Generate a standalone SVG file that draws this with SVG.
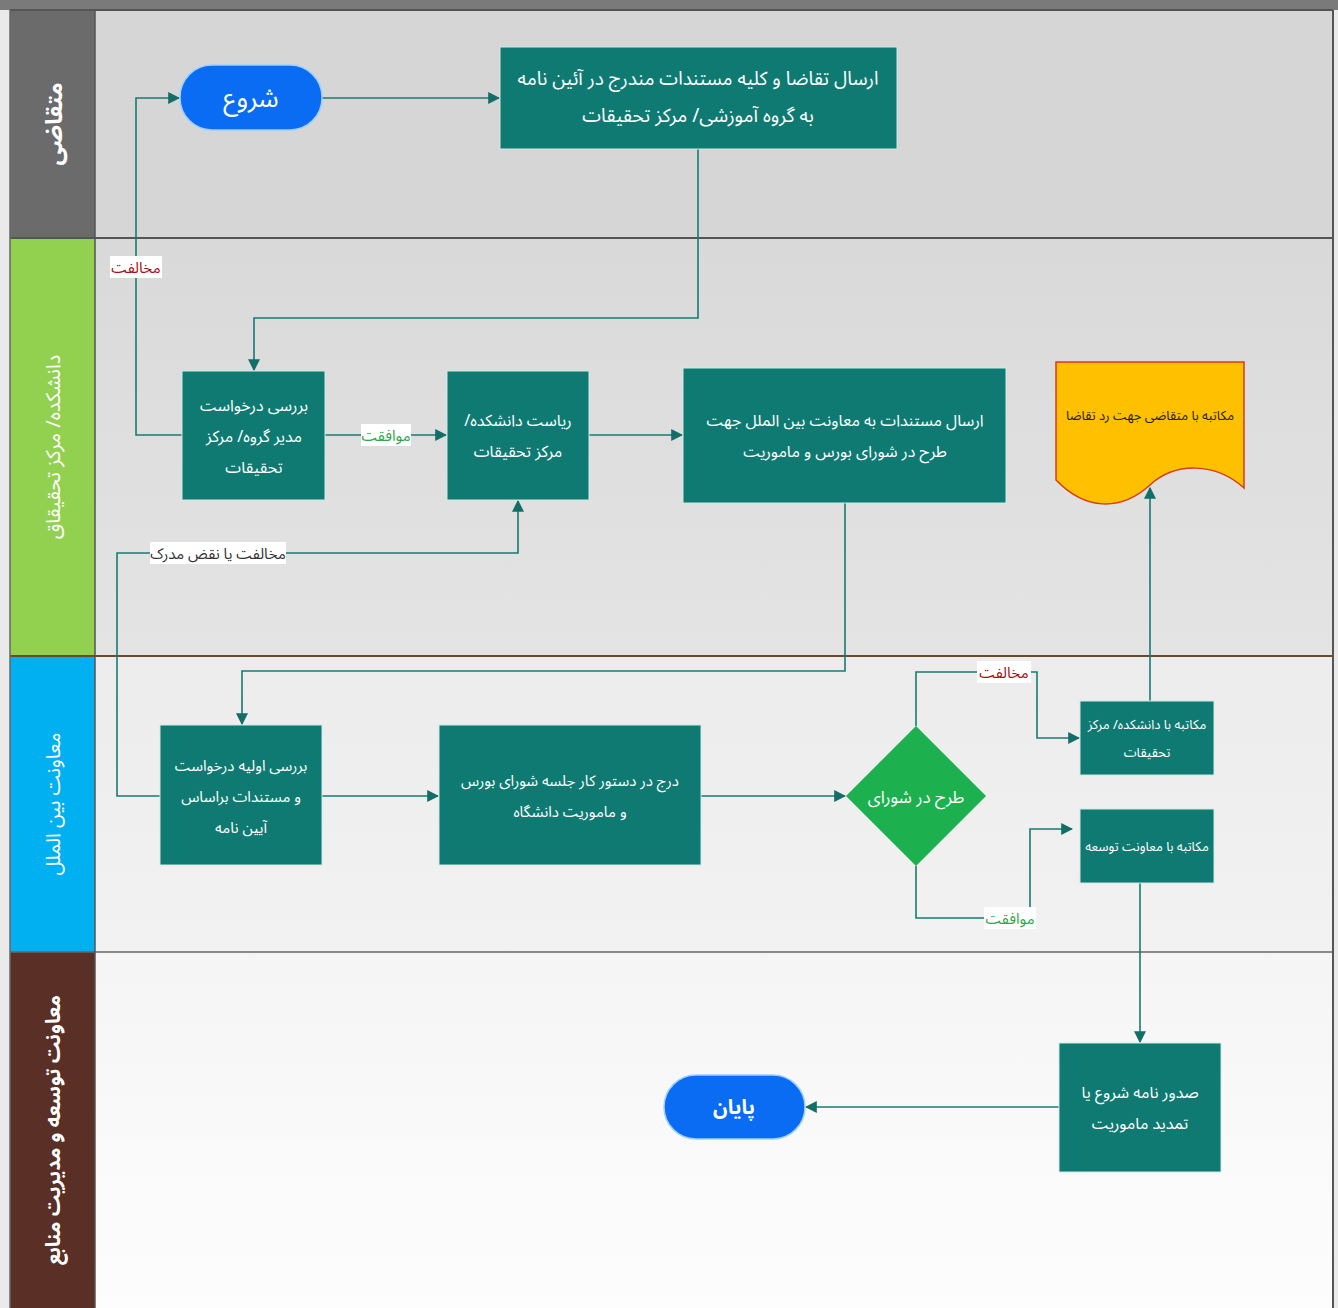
<svg xmlns="http://www.w3.org/2000/svg" width="1338" height="1308" viewBox="0 0 1338 1308">
<style>
.t{font-family:"Noto Sans Arabic","DejaVu Sans","Noto Sans",sans-serif;direction:rtl;unicode-bidi:embed;}
.box{fill:#0f7a72;stroke:#cfe9e6;stroke-width:1;}
.bt{fill:#ffffff;text-anchor:middle;}
.lane{fill:#ffffff;text-anchor:middle;}
.c{fill:none;stroke:#1a7a72;stroke-width:1.6;}
.lblbg{fill:#ffffff;}
.red{fill:#a50f0f;text-anchor:middle;}
.grn{fill:#2aa84a;text-anchor:middle;}
</style>
<defs>
<marker id="ah" viewBox="0 0 10 10" refX="9" refY="5" markerWidth="12" markerHeight="12" orient="auto" markerUnits="userSpaceOnUse">
<path d="M0,0 L10,5 L0,10 z" fill="#126e66"/>
</marker>
<linearGradient id="g2" x1="0" y1="0" x2="0" y2="1"><stop offset="0" stop-color="#d9d9d9"/><stop offset="1" stop-color="#e4e4e4"/></linearGradient>
<linearGradient id="g3" x1="0" y1="0" x2="0" y2="1"><stop offset="0" stop-color="#ececec"/><stop offset="1" stop-color="#f2f2f2"/></linearGradient>
<linearGradient id="g4" x1="0" y1="0" x2="0" y2="1"><stop offset="0" stop-color="#f5f5f5"/><stop offset="1" stop-color="#fdfdfd"/></linearGradient>
</defs>

<rect x="0" y="0" width="1338" height="1308" fill="#eaeaea"/>
<rect x="0" y="0" width="1338" height="10" fill="#7a7a7a"/>

<g id="lanes">
<rect x="95" y="10" width="1238" height="228" fill="#d6d6d6"/>
<rect x="95" y="238" width="1238" height="418" fill="url(#g2)"/>
<rect x="95" y="656" width="1238" height="296" fill="url(#g3)"/>
<rect x="95" y="952" width="1238" height="356" fill="url(#g4)"/>
<rect x="10" y="10" width="85" height="228" fill="#6b6b6b"/>
<rect x="10" y="238" width="85" height="418" fill="#92d050"/>
<rect x="10" y="656" width="85" height="296" fill="#00b0f0"/>
<rect x="10" y="952" width="85" height="356" fill="#5a3026"/>
<line x1="10" y1="10" x2="1333" y2="10" stroke="#555" stroke-width="2"/>
<line x1="10" y1="238" x2="1333" y2="238" stroke="#555" stroke-width="2"/>
<line x1="10" y1="656" x2="1333" y2="656" stroke="#6b4a2a" stroke-width="2"/>
<line x1="10" y1="952" x2="1333" y2="952" stroke="#666" stroke-width="1.5"/>
<line x1="10" y1="10" x2="10" y2="1308" stroke="#666" stroke-width="1.5"/>
<line x1="95" y1="10" x2="95" y2="1308" stroke="#555" stroke-width="1.5"/>
<line x1="1333" y1="10" x2="1333" y2="1308" stroke="#555" stroke-width="2"/>
<text class="t lane" font-size="23" font-weight="bold" transform="translate(62,124) rotate(-90)">متقاضی</text>
<text class="t lane" font-size="20" fill="#f2f7ea" transform="translate(60,447) rotate(-90)">دانشکده/ مرکز تحقیقاق</text>
<text class="t lane" font-size="20" transform="translate(60,804) rotate(-90)">معاونت بین الملل</text>
<text class="t lane" font-size="20" font-weight="bold" transform="translate(60,1130) rotate(-90)">معاونت توسعه و مدیریت منابع</text>
</g>

<g id="connectors">
<path class="c" d="M322,98 H499" marker-end="url(#ah)"/>
<path class="c" d="M698,149 V318 H254 V370" marker-end="url(#ah)"/>
<path class="c" d="M182,435 H136 V98 H179" marker-end="url(#ah)"/>
<path class="c" d="M325,435 H446" marker-end="url(#ah)"/>
<path class="c" d="M589,435 H682" marker-end="url(#ah)"/>
<path class="c" d="M845,503 V671 H242 V724" marker-end="url(#ah)"/>
<path class="c" d="M160,796 H117 V553 H518 V501" marker-end="url(#ah)"/>
<path class="c" d="M322,796 H438" marker-end="url(#ah)"/>
<path class="c" d="M701,796 H845" marker-end="url(#ah)"/>
<path class="c" d="M916,726 V672 H1037 V738 H1079" marker-end="url(#ah)"/>
<path class="c" d="M916,866 V918 H1030 V829 H1072" marker-end="url(#ah)"/>
<path class="c" d="M1150,701 V488" marker-end="url(#ah)"/>
<path class="c" d="M1140,883 V1042" marker-end="url(#ah)"/>
<path class="c" d="M1059,1107 H806" marker-end="url(#ah)"/>
<rect class="lblbg" x="110" y="256" width="52" height="22"/>
<text class="t red" font-size="15" x="136" y="273">مخالفت</text>
<rect class="lblbg" x="361" y="424" width="50" height="22"/>
<text class="t grn" font-size="15" x="386" y="441">موافقت</text>
<rect class="lblbg" x="150" y="542" width="136" height="22"/>
<text class="t" x="218" y="559" font-size="15" fill="#333" text-anchor="middle">مخالفت یا نقض مدرک</text>
<rect class="lblbg" x="977" y="661" width="54" height="22"/>
<text class="t red" font-size="15" x="1004" y="678">مخالفت</text>
<rect class="lblbg" x="984" y="907" width="52" height="22"/>
<text class="t grn" font-size="15" x="1010" y="924">موافقت</text>
</g>

<g id="start">
<rect x="180" y="65" width="142" height="65" rx="32" fill="#0a6cf2" stroke="#9fd0ff" stroke-width="1.5"/>
<text class="t" x="251" y="107" font-size="26" fill="#fff" text-anchor="middle">شروع</text>
</g>
<g id="n1">
<rect class="box" x="500" y="47" width="397" height="102"/>
<text class="t bt" x="698" y="85" font-size="19">ارسال تقاضا و کلیه مستندات مندرج در آئین نامه</text>
<text class="t bt" x="698" y="122" font-size="19">به گروه آموزشی/ مرکز تحقیقات</text>
</g>
<g id="n2">
<rect class="box" x="182" y="371" width="143" height="129"/>
<text class="t bt" font-size="16" x="254" y="411">بررسی درخواست</text>
<text class="t bt" font-size="16" x="254" y="442">مدیر گروه/ مرکز</text>
<text class="t bt" font-size="16" x="254" y="473">تحقیقات</text>
</g>
<g id="n3">
<rect class="box" x="447" y="371" width="142" height="129"/>
<text class="t bt" font-size="16" x="518" y="426">ریاست دانشکده/</text>
<text class="t bt" font-size="16" x="518" y="457">مرکز تحقیقات</text>
</g>
<g id="n4">
<rect class="box" x="683" y="368" width="323" height="135"/>
<text class="t bt" font-size="16" x="845" y="426">ارسال مستندات به معاونت بین الملل جهت</text>
<text class="t bt" font-size="16" x="845" y="457">طرح در شورای بورس و ماموریت</text>
</g>
<g id="doc">
<path d="M1056,362 L1244,362 L1244,488 C1215,462 1175,462 1150,485 C1120,512 1085,510 1056,480 Z" fill="#ffc000" stroke="#d93a1a" stroke-width="1.5"/>
<text class="t" x="1150" y="420" font-size="13" fill="#222" text-anchor="middle">مکاتبه با متقاضی جهت رد تقاضا</text>
</g>
<g id="n5">
<rect class="box" x="160" y="725" width="162" height="140"/>
<text class="t bt" x="241" y="771" font-size="15">بررسی اولیه درخواست</text>
<text class="t bt" x="241" y="802" font-size="15">و مستندات براساس</text>
<text class="t bt" x="241" y="833" font-size="15">آیین نامه</text>
</g>
<g id="n6">
<rect class="box" x="439" y="725" width="262" height="140"/>
<text class="t bt" x="570" y="786" font-size="15">درج در دستور کار جلسه شورای بورس</text>
<text class="t bt" x="570" y="817" font-size="15">و ماموریت دانشگاه</text>
</g>
<g id="decision">
<path d="M916,726 L986,796 L916,866 L846,796 Z" fill="#1db04e"/>
<text class="t" x="916" y="803" font-size="17" fill="#fff" text-anchor="middle">طرح در شورای</text>
</g>
<g id="n7">
<rect class="box" x="1080" y="701" width="134" height="74"/>
<text class="t bt" x="1147" y="729" font-size="13">مکاتبه با دانشکده/ مرکز</text>
<text class="t bt" x="1147" y="757" font-size="13">تحقیقات</text>
</g>
<g id="n8">
<rect class="box" x="1080" y="809" width="134" height="74"/>
<text class="t bt" x="1147" y="851" font-size="13">مکاتبه با معاونت توسعه</text>
</g>
<g id="n9">
<rect class="box" x="1059" y="1043" width="162" height="129"/>
<text class="t bt" font-size="16" x="1140" y="1098">صدور نامه شروع  یا</text>
<text class="t bt" font-size="16" x="1140" y="1129">تمدید ماموریت</text>
</g>
<g id="end">
<rect x="664" y="1075" width="141" height="64" rx="32" fill="#0a6cf2" stroke="#9fd0ff" stroke-width="1.5"/>
<text class="t" x="734" y="1114" font-size="20" font-weight="bold" fill="#fff" text-anchor="middle">پایان</text>
</g>
</svg>
